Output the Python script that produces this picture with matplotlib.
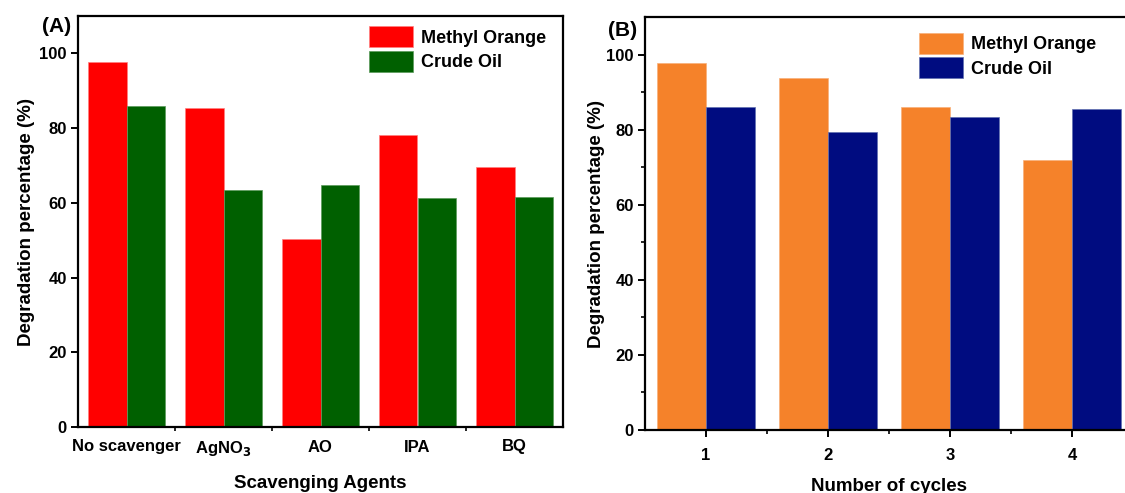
import matplotlib
matplotlib.use("Agg")
import matplotlib.pyplot as plt
from matplotlib.ticker import FixedLocator
import numpy as np

plt.rcParams['font.family'] = ['Liberation Sans', 'DejaVu Sans']
plt.rcParams['font.weight'] = 'bold'

# Panel A data
agents = ["No scavenger", "AgNO$_\\mathbf{3}$", "AO", "IPA", "BQ"]
mo_agents = [97.8, 85.3, 50.4, 78.2, 69.6]
co_agents = [86.0, 63.3, 64.8, 61.2, 61.6]

# Panel B data
cycles = [1, 2, 3, 4]
mo_cycles = [97.8, 93.7, 85.9, 71.8]
co_cycles = [86.1, 79.3, 83.4, 85.4]

W, H = 1125, 493
fig = plt.figure(figsize=(W / 100, H / 100), dpi=100)

def px_axes(l, r, t, b):
    return fig.add_axes([l / W, 1 - b / H, (r - l) / W, (b - t) / H])

axA = px_axes(78, 563, 16, 427)
axB = px_axes(645, 1133, 17, 430)

bw = 0.4
tick_fs = 12
lab_fs = 13.5
leg_fs = 13

def style(ax):
    for s in ax.spines.values():
        s.set_linewidth(1.6)
    ax.tick_params(axis='both', which='major', direction='out', length=5, width=1.4,
                   labelsize=tick_fs, pad=3)
    ax.tick_params(axis='both', which='minor', direction='out', length=3, width=1.2)
    for lbl in ax.get_xticklabels() + ax.get_yticklabels():
        lbl.set_fontweight('bold')

leg_kw = dict(loc='upper left', frameon=False, prop={'size': leg_fs, 'weight': 'bold'},
              handlelength=2.45, handleheight=1.4, handletextpad=0.45, labelspacing=0.2,
              borderpad=0, borderaxespad=0)

# ---------- Panel A ----------
x = np.arange(len(agents))
axA.bar(x - bw / 2, mo_agents, bw, color='#ff0000', edgecolor='#ff8080', linewidth=0.5,
        label='Methyl Orange')
axA.bar(x + bw / 2, co_agents, bw, color='#006000', edgecolor='#5a9a5a', linewidth=0.5,
        label='Crude Oil')
axA.set_xlim(-0.5, len(agents) - 0.5)
axA.set_ylim(0, 110)
axA.yaxis.set_major_locator(FixedLocator([0, 20, 40, 60, 80, 100]))
axA.set_xticks(x)
axA.set_xticklabels(agents)
axA.xaxis.set_minor_locator(FixedLocator(np.arange(0.5, len(agents) - 0.5, 1)))
style(axA)
axA.tick_params(axis='x', which='major', length=0, pad=9)
axA.set_xlabel('Scavenging Agents', fontsize=lab_fs, fontweight='bold', labelpad=12)
axA.set_ylabel('Degradation percentage (%)', fontsize=lab_fs, fontweight='bold', labelpad=3)
axA.legend(bbox_to_anchor=(0.6, 0.975), **leg_kw)

# ---------- Panel B ----------
xc = np.array(cycles)
axB.bar(xc - bw / 2, mo_cycles, bw, color='#f5822a', edgecolor='#f8b07a', linewidth=0.5,
        label='Methyl Orange')
axB.bar(xc + bw / 2, co_cycles, bw, color='#000c80', edgecolor='#6070b0', linewidth=0.5,
        label='Crude Oil')
axB.set_xlim(0.5, 4.5)
axB.set_ylim(0, 110)
axB.yaxis.set_major_locator(FixedLocator([0, 20, 40, 60, 80, 100]))
axB.yaxis.set_minor_locator(FixedLocator([10, 30, 50, 70, 90]))
axB.set_xticks(xc)
axB.set_xticklabels([str(c) for c in cycles])
axB.xaxis.set_minor_locator(FixedLocator([1.5, 2.5, 3.5]))
style(axB)
axB.tick_params(axis='x', which='major', pad=8)
axB.set_xlabel('Number of cycles', fontsize=lab_fs, fontweight='bold', labelpad=11)
axB.set_ylabel('Degradation percentage (%)', fontsize=lab_fs, fontweight='bold', labelpad=1)
axB.legend(bbox_to_anchor=(0.561, 0.962), **leg_kw)

fig.text(42 / W, 1 - 27 / H, '(A)', fontsize=15, fontweight='bold', va='center', ha='left')
fig.text(608 / W, 1 - 30 / H, '(B)', fontsize=15, fontweight='bold', va='center', ha='left')

fig.savefig('out.png', dpi=100)
